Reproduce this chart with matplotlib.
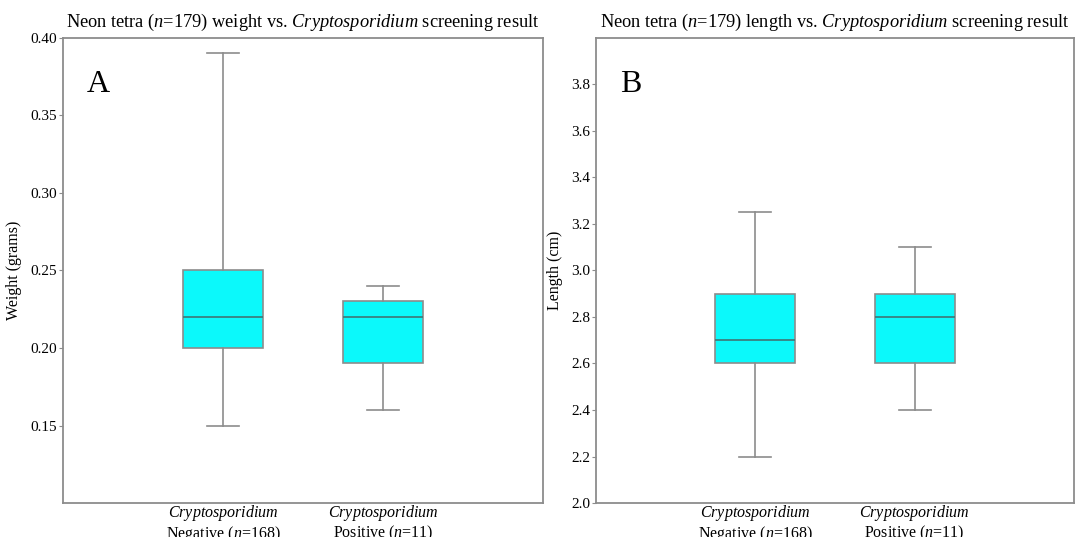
import matplotlib
matplotlib.use("Agg")
import matplotlib.pyplot as plt

plt.rcParams['font.family'] = ['Liberation Serif', 'DejaVu Serif']
plt.rcParams['mathtext.fontset'] = 'custom'
plt.rcParams['mathtext.rm'] = 'Liberation Serif'
plt.rcParams['mathtext.it'] = 'Liberation Serif:italic'

# five-number summaries: low whisker, q1, median, q3, high whisker
groups = ["Negative", "Positive"]
group_n = [168, 11]
weight_neg = [0.15, 0.20, 0.22, 0.25, 0.39]
weight_pos = [0.16, 0.19, 0.22, 0.23, 0.24]
length_neg = [2.2, 2.6, 2.7, 2.9, 3.25]
length_pos = [2.4, 2.6, 2.8, 2.9, 3.1]

weight_ticks = [0.15, 0.20, 0.25, 0.30, 0.35, 0.40]
length_ticks = [2.0, 2.2, 2.4, 2.6, 2.8, 3.0, 3.2, 3.4, 3.6, 3.8]

FILL = '#0bf9fb'
EDGE = '#8c8c8c'
MED = '#3a8080'


def to_stats(summary):
    lo, q1, med, q3, hi = summary
    return dict(whislo=lo, q1=q1, med=med, q3=q3, whishi=hi, fliers=[])


def draw_panel(ax, summaries, title, ylabel, ylim, yticks, fmt, letter):
    stats = [to_stats(s) for s in summaries]
    ax.bxp(stats, positions=[1, 2], widths=0.5, patch_artist=True, showfliers=False,
           boxprops=dict(facecolor=FILL, edgecolor=EDGE, linewidth=1.2),
           medianprops=dict(color=MED, linewidth=1.3),
           whiskerprops=dict(color=EDGE, linewidth=1.2),
           capprops=dict(color=EDGE, linewidth=1.2), capwidths=0.2)
    ax.set_xlim(0, 3)
    ax.set_ylim(*ylim)
    ax.set_yticks(yticks)
    ax.set_yticklabels([fmt.format(t) for t in yticks])
    ax.set_xticks([1, 2])
    labels = ax.set_xticklabels([f"$\\mathit{{Cryptosporidium}}$\n{g} ($n$={n})"
                                 for g, n in zip(groups, group_n)], fontsize=11.5)
    for lb in labels:
        lb.set_linespacing(1.05)
    ax.tick_params(axis='x', length=0, pad=0)
    ax.tick_params(axis='y', length=3, width=0.8, color=EDGE, labelsize=11, pad=1)
    for sp in ax.spines.values():
        sp.set_color(EDGE)
        sp.set_linewidth(1.3)
    ax.set_title(title, fontsize=13.2, pad=8)
    ax.set_ylabel(ylabel, fontsize=11.5, labelpad=6)
    ax.text(0.05, 0.9, letter, transform=ax.transAxes, fontsize=23, va='center')


fig = plt.figure(figsize=(10.75, 5.37), dpi=100)
ax1 = fig.add_axes([0.0586, 0.0633, 0.4465, 0.866])
ax2 = fig.add_axes([0.5544, 0.0633, 0.4447, 0.866])

draw_panel(ax1, [weight_neg, weight_pos],
           r"Neon tetra ($n$=179) weight vs. $\mathit{Cryptosporidium}$ screening result",
           "Weight (grams)", (0.10, 0.40), weight_ticks, "{:.2f}", "A")
draw_panel(ax2, [length_neg, length_pos],
           r"Neon tetra ($n$=179) length vs. $\mathit{Cryptosporidium}$ screening result",
           "Length (cm)", (2.0, 4.0), length_ticks, "{:.1f}", "B")

fig.savefig("out.png", dpi=100)
